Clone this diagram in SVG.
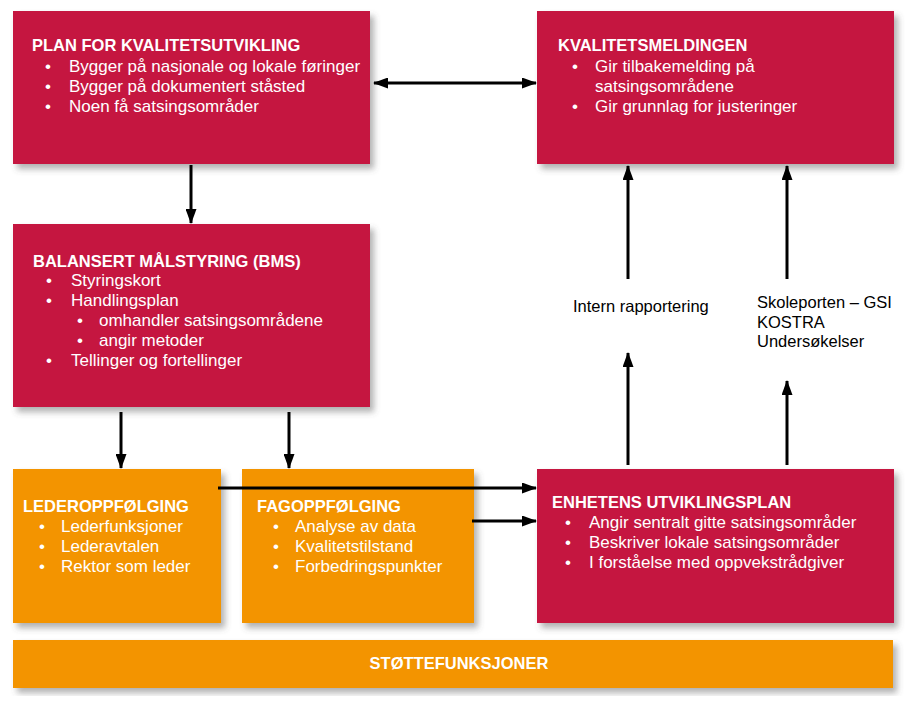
<svg xmlns="http://www.w3.org/2000/svg" width="909" height="703" viewBox="0 0 909 703">
<defs>
<filter id="sh" x="-5%" y="-5%" width="115%" height="120%">
<feDropShadow dx="4" dy="5" stdDeviation="3" flood-color="#555" flood-opacity="0.45"/>
</filter>
<marker id="ah" markerUnits="userSpaceOnUse" markerWidth="15" markerHeight="11" refX="14" refY="5.5" orient="auto-start-reverse" viewBox="0 0 15 11">
<path d="M0,0 L15,5.5 L0,11 z" fill="#000"/>
</marker>
<style>
.red{fill:#C5193F;filter:url(#sh)}
.org{fill:#F39400;filter:url(#sh)}
text{font-family:"Liberation Sans",Arial,Helvetica,sans-serif;fill:#fff}
.t{font-weight:bold;font-size:16.5px}
.i{font-size:17px}
.lbl{font-size:16.5px;fill:#000}
.c{stroke:#000;stroke-width:3;fill:none;marker-end:url(#ah)}
</style>
</defs>
<rect width="909" height="703" fill="#fff"/>

<g id="plan">
<rect class="red" x="13" y="11" width="357" height="153"/>
<text class="t" x="32" y="51">PLAN FOR KVALITETSUTVIKLING</text>
<text class="i" x="45" y="72">•</text><text class="i" x="69" y="72">Bygger på nasjonale og lokale føringer</text>
<text class="i" x="45" y="92">•</text><text class="i" x="69" y="92">Bygger på dokumentert ståsted</text>
<text class="i" x="45" y="112">•</text><text class="i" x="69" y="112">Noen få satsingsområder</text>
</g>

<g id="kvalitetsmeldingen">
<rect class="red" x="537" y="11" width="357" height="153"/>
<text class="t" x="558" y="51">KVALITETSMELDINGEN</text>
<text class="i" x="572" y="72">•</text><text class="i" x="595" y="72">Gir tilbakemelding på</text>
<text class="i" x="595" y="92">satsingsområdene</text>
<text class="i" x="572" y="112">•</text><text class="i" x="595" y="112">Gir grunnlag for justeringer</text>
</g>

<g id="bms">
<rect class="red" x="13" y="224" width="357" height="183"/>
<text class="t" x="33" y="267">BALANSERT MÅLSTYRING (BMS)</text>
<text class="i" x="46" y="286">•</text><text class="i" x="71" y="286">Styringskort</text>
<text class="i" x="46" y="306">•</text><text class="i" x="71" y="306">Handlingsplan</text>
<text class="i" x="77" y="326">•</text><text class="i" x="99" y="326">omhandler satsingsområdene</text>
<text class="i" x="77" y="346">•</text><text class="i" x="99" y="346">angir metoder</text>
<text class="i" x="46" y="366">•</text><text class="i" x="71" y="366">Tellinger og fortellinger</text>
</g>

<g id="lederoppfolging">
<rect class="org" x="13" y="469" width="208" height="154"/>
<text class="t" x="23" y="512">LEDEROPPFØLGING</text>
<text class="i" x="39" y="532">•</text><text class="i" x="61" y="532">Lederfunksjoner</text>
<text class="i" x="39" y="552">•</text><text class="i" x="61" y="552">Lederavtalen</text>
<text class="i" x="39" y="572">•</text><text class="i" x="61" y="572">Rektor som leder</text>
</g>

<g id="fagoppfolging">
<rect class="org" x="242" y="469" width="232" height="154"/>
<text class="t" x="257" y="512">FAGOPPFØLGING</text>
<text class="i" x="273" y="532">•</text><text class="i" x="295" y="532">Analyse av data</text>
<text class="i" x="273" y="552">•</text><text class="i" x="295" y="552">Kvalitetstilstand</text>
<text class="i" x="273" y="572">•</text><text class="i" x="295" y="572">Forbedringspunkter</text>
</g>

<g id="enhetens">
<rect class="red" x="537" y="469" width="357" height="154"/>
<text class="t" x="552" y="508">ENHETENS UTVIKLINGSPLAN</text>
<text class="i" x="565" y="528">•</text><text class="i" x="589" y="528">Angir sentralt gitte satsingsområder</text>
<text class="i" x="565" y="548">•</text><text class="i" x="589" y="548">Beskriver lokale satsingsområder</text>
<text class="i" x="565" y="568">•</text><text class="i" x="589" y="568">I forståelse med oppvekstrådgiver</text>
</g>

<g id="stottefunksjoner">
<rect class="org" x="13" y="640" width="880" height="48"/>
<text x="459" y="669" text-anchor="middle" style="font-weight:bold;font-size:16.5px">STØTTEFUNKSJONER</text>
</g>

<g id="labels">
<text class="lbl" x="573" y="312">Intern rapportering</text>
<text class="lbl" x="757" y="308">Skoleporten – GSI</text>
<text class="lbl" x="757" y="328">KOSTRA</text>
<text class="lbl" x="757" y="347">Undersøkelser</text>
</g>

<g id="connectors">
<path class="c" d="M374,83 L536,83" style="marker-start:url(#ah)"/>
<path class="c" d="M191,165 L191,223"/>
<path class="c" d="M121,412 L121,468"/>
<path class="c" d="M289,412 L289,468"/>
<path class="c" d="M218,488 L536,488"/>
<path class="c" d="M472,521 L536,521"/>
<path class="c" d="M628,279 L628,166"/>
<path class="c" d="M787,279 L787,166"/>
<path class="c" d="M628,465 L628,353"/>
<path class="c" d="M787,465 L787,381"/>
</g>
</svg>
